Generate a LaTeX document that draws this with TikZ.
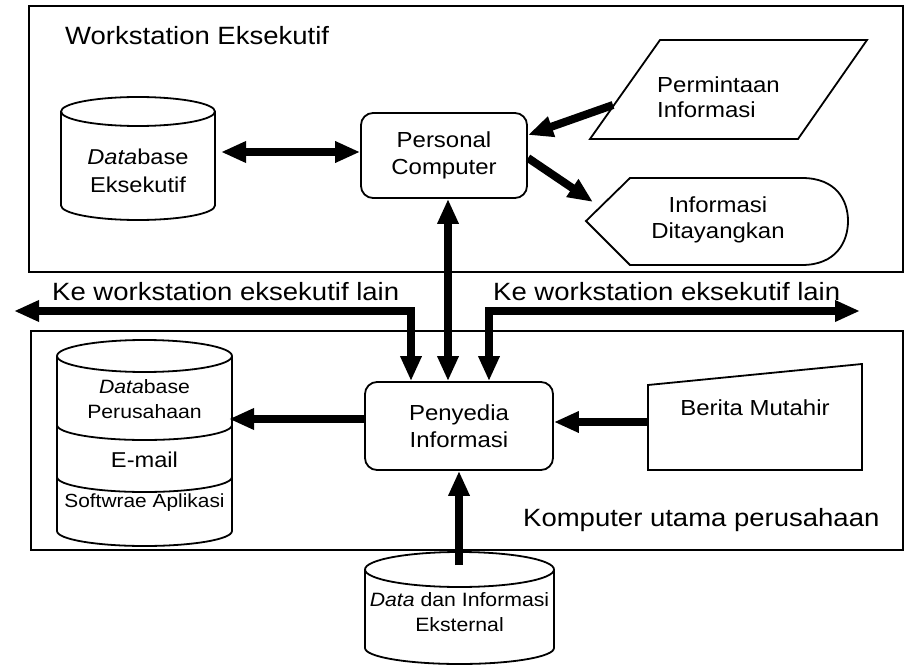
\documentclass[tikz,border=0pt]{standalone}
\usepackage{fontspec}
\setmainfont{Liberation Sans}[FakeStretch=1.1]
\usetikzlibrary{arrows.meta}
\begin{document}
\begin{tikzpicture}[x=1pt,y=-1pt,
  frame/.style={draw=black,line width=1.8pt},
  outline/.style={draw=black,line width=1.8pt,fill=white,line join=round},
  flow/.style={line width=8pt,-{Triangle[length=25pt,width=20pt]}},
  twoway/.style={line width=8pt,{Triangle[length=25pt,width=20pt]}-{Triangle[length=25pt,width=20pt]}},
  big/.style={font=\fontsize{25}{28}\selectfont,inner sep=0pt},
  txt/.style={font=\fontsize{21.8}{27}\selectfont,align=center,inner sep=0pt},
  dbtxt/.style={font=\fontsize{21.5}{28}\selectfont,align=center,inner sep=0pt},
  smalltxt/.style={font=\fontsize{19.3}{25}\selectfont,align=center,inner sep=0pt},
  proc/.style={draw=black,line width=1.8pt,rounded corners=12pt,fill=white,
    font=\fontsize{21.8}{27}\selectfont,align=center,inner sep=0pt}
]
\useasboundingbox (0,0) rectangle (906,666);

% the two enclosing areas
\draw[frame] (29,6) rectangle (903,272);
\draw[frame] (31,331) rectangle (903,550);
\node[big,anchor=base west] (ttl) at (65,45) {Workstation Eksekutif};
\node[big,anchor=base west] (host) at (523,526) {Komputer utama perusahaan};
\node[big,anchor=base west] (lblL) at (52,301) {Ke workstation eksekutif lain};
\node[big,anchor=base west] (lblR) at (493,301) {Ke workstation eksekutif lain};

% executive database (cylinder)
\draw[outline] (61,111.5) -- (61,205.5) arc[start angle=180,end angle=0,x radius=77,y radius=14.5] -- (215,111.5);
\draw[outline] (138,111.5) ellipse [x radius=77,y radius=14.5];
\node[dbtxt] (dbe) at (138,171) {\textit{Data}base\\Eksekutif};

% personal computer and information provider
\node[proc,minimum width=166pt,minimum height=85pt] (pc) at (444,155.5) {Personal\\Computer};
\node[proc,minimum width=188pt,minimum height=88pt] (py) at (459,426) {Penyedia\\Informasi};

% information request (parallelogram)
\draw[outline,line join=miter] (660,40) -- (867,40) -- (798,139) -- (590,139) -- cycle;
\node[txt,align=left,anchor=west,font=\fontsize{21.8}{25}\selectfont] (req) at (657,97.5) {Permintaan\\Informasi};

% displayed information (display symbol)
\draw[outline,line join=miter] (586,221) -- (630,178) -- (802,178)
  .. controls (836,178) and (848,200) .. (848,221)
  .. controls (848,242) and (836,265) .. (802,265) -- (630,265) -- cycle;
\node[txt,font=\fontsize{21.8}{26}\selectfont] (disp) at (718,220) {Informasi\\Ditayangkan};

% latest news (manual input)
\draw[outline,line join=miter] (648,385) -- (862,364) -- (862,470) -- (648,470) -- cycle;
\node[txt] (news) at (755,408) {Berita Mutahir};

% company database with stacked sections
\draw[outline] (57,356) -- (57,531) arc[start angle=180,end angle=0,x radius=87.5,y radius=15] -- (232,356);
\draw[outline] (144.5,356) ellipse [x radius=87.5,y radius=16];
\draw[outline,fill=none] (57,425) arc[start angle=180,end angle=0,x radius=87.5,y radius=15];
\draw[outline,fill=none] (57,477) arc[start angle=180,end angle=0,x radius=87.5,y radius=15];
\node[smalltxt] (dbp) at (144.5,399.5) {\textit{Data}base\\Perusahaan};
\node[dbtxt] (mail) at (144.5,460) {E-mail};
\node[smalltxt,font=\fontsize{19}{25}\selectfont] (app) at (144.5,503) {Softwrae Aplikasi};

% external data (cylinder)
\draw[outline] (365,569.5) -- (365,648) arc[start angle=180,end angle=0,x radius=94.5,y radius=16] -- (554,569.5);
\draw[outline] (459.5,569.5) ellipse [x radius=94.5,y radius=17.5];
\node[smalltxt] (ext) at (459.5,612.5) {\textit{Data} dan Informasi\\Eksternal};

% connection points
\coordinate (dbeR) at (221,152);
\coordinate (reqL) at (613,105);
\coordinate (pcR) at (528,135);
\coordinate (pcOut) at (528,158);
\coordinate (dispL) at (593,202);
\coordinate (mid) at (448,300);
\coordinate (lEnd) at (14,311);
\coordinate (lBend) at (411,311);
\coordinate (rEnd) at (860,311);
\coordinate (rBend) at (489,311);
\coordinate (dbpR) at (229,419);
\coordinate (newsL) at (648,422);
\coordinate (extTop) at (459,565);

% connectors
\draw[twoway] (dbeR) -- (pc.west |- dbeR);
\draw[flow] (reqL) -- (pcR);
\draw[flow] (pcOut) -- (dispL);
\draw[twoway] (pc.south -| mid) -- (py.north -| mid);
\draw[twoway] (lEnd) -- (lBend) -- (lBend |- py.north);
\draw[twoway] (rBend |- py.north) -- (rBend) -- (rEnd);
\draw[flow] (py.west |- dbpR) -- (dbpR);
\draw[flow] (newsL) -- (py.east |- newsL);
\draw[flow] (extTop) -- (py.south -| extTop);
\end{tikzpicture}
\end{document}
